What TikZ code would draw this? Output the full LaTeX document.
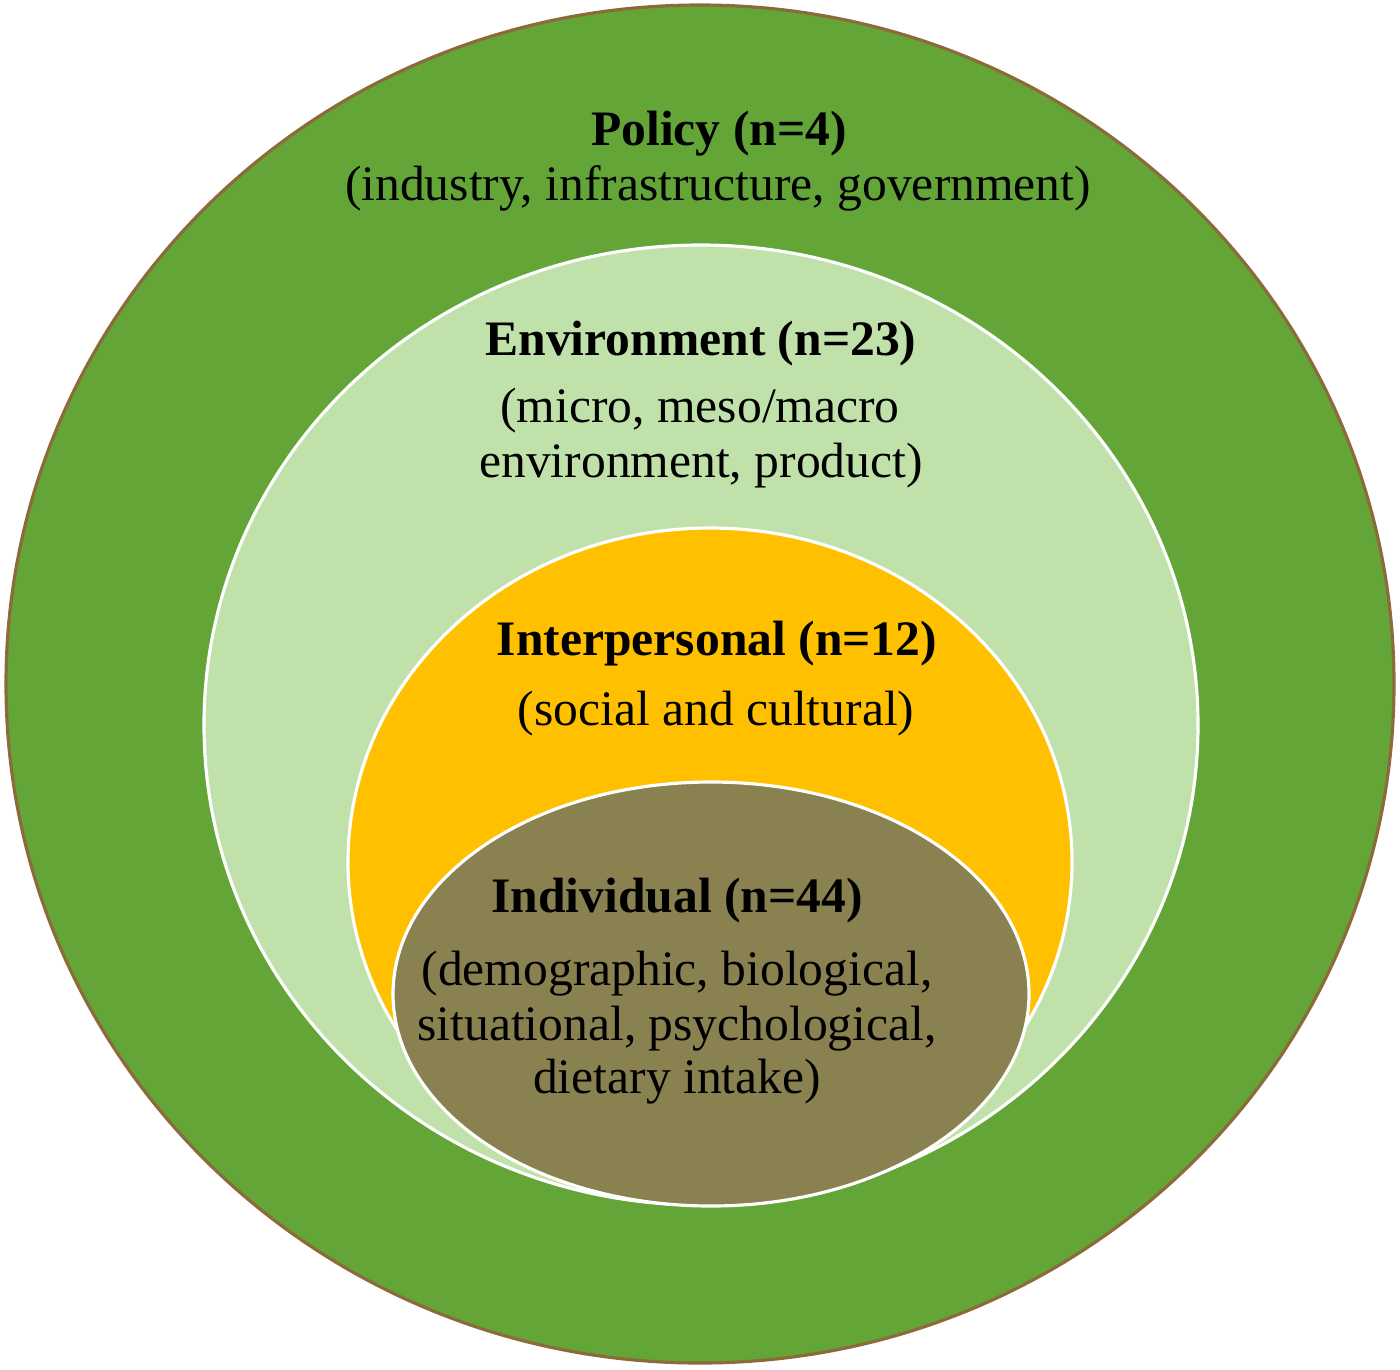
\documentclass[tikz,border=0pt]{standalone}
\usepackage{fontspec}
\setmainfont{Liberation Serif}
\definecolor{outergreen}{HTML}{63A537}
\definecolor{outerrim}{HTML}{8C6A3A}
\definecolor{lightgreen}{HTML}{C1E1AA}
\definecolor{amber}{HTML}{FFC000}
\definecolor{olive}{HTML}{8A8150}
\tikzset{
  ring/.style={draw=white, line width=0.9pt},
  ttl/.style={anchor=base, inner sep=0pt, font=\fontsize{14.1pt}{16pt}\selectfont\bfseries},
  sub/.style={anchor=base, inner sep=0pt, font=\fontsize{14.1pt}{16pt}\selectfont},
}
\begin{document}
\begin{tikzpicture}[x=0.01cm, y=-0.01cm]
\useasboundingbox (0,0) rectangle (1400,1369);
\fill[outergreen, draw=outerrim, line width=0.9pt] (700,684) ellipse [x radius=694, y radius=679];
\fill[lightgreen, ring] (701,725) ellipse [x radius=497, y radius=480];
\fill[amber, ring] (710,862) ellipse [x radius=362, y radius=334];
\fill[olive, ring] (711,994) ellipse [x radius=318, y radius=212];

\node[ttl] (policy) at (719,145) {Policy (n=4)};
\node[sub] (policysub) at (718,200) {(industry, infrastructure, government)};
\node[ttl] (env) at (701,355) {Environment (n=23)};
\node[sub] (envsub1) at (700,422) {(micro, meso/macro};
\node[sub] (envsub2) at (701,477) {environment, product)};
\node[ttl] (inter) at (717,655) {Interpersonal (n=12)};
\node[sub] (intersub) at (716,725) {(social and cultural)};
\node[ttl] (indiv) at (677,912) {Individual (n=44)};
\node[sub] (indivsub1) at (677,985) {(demographic, biological,};
\node[sub] (indivsub2) at (677,1040) {situational, psychological,};
\node[sub] (indivsub3) at (677,1093) {dietary intake)};
\end{tikzpicture}
\end{document}
